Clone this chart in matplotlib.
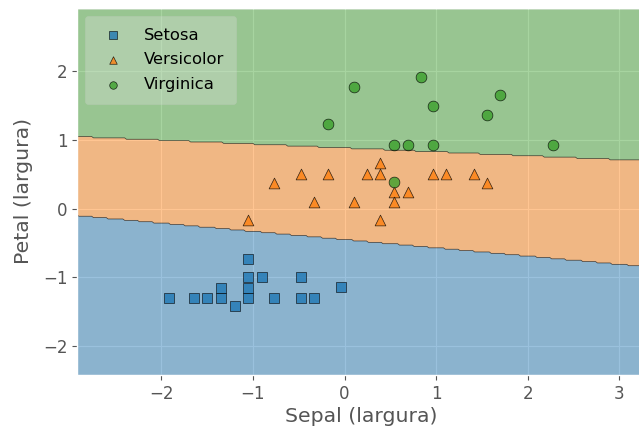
import numpy as np
import matplotlib
matplotlib.use("Agg")
import matplotlib.pyplot as plt

plt.style.use("ggplot")
plt.rcParams["xtick.labelsize"] = 12
plt.rcParams["ytick.labelsize"] = 12
plt.rcParams["axes.labelsize"] = 14.7
plt.rcParams["legend.fontsize"] = 11.8

# standardized test points (sepal, petal)
setosa_x = [-1.92, -1.64, -1.50, -1.35, -1.35, -1.20, -1.05, -1.05, -1.05, -1.05,
            -0.90, -0.77, -0.48, -0.48, -0.33, -0.04]
setosa_y = [-1.30, -1.30, -1.30, -1.15, -1.30, -1.42, -0.73, -1.00, -1.15, -1.30,
            -1.00, -1.30, -1.00, -1.30, -1.30, -1.14]
versi_x = [0.39, -0.48, -0.18, 0.24, 0.39, 0.96, 1.11, 1.41, -0.77, 1.56,
           0.54, 0.69, -0.33, 0.10, 0.54, -1.05, 0.39]
versi_y = [0.66, 0.51, 0.51, 0.51, 0.51, 0.51, 0.51, 0.51, 0.38, 0.38,
           0.24, 0.24, 0.09, 0.09, 0.09, -0.17, -0.17]
virg_x = [-0.18, 0.10, 0.83, 0.97, 1.56, 1.70, 0.54, 0.69, 0.97, 2.28, 0.54]
virg_y = [1.23, 1.77, 1.92, 1.50, 1.36, 1.65, 0.93, 0.93, 0.93, 0.93, 0.39]

labels = ["Setosa", "Versicolor", "Virginica"]
markers = ["s", "^", "o"]
colors = ["#1f77b4", "#ff7f0e", "#3ca02c"]

# linear decision boundaries: petal = intercept + slope * sepal
upper_boundary = [0.884, -0.0569]   # virginica / versicolor
lower_boundary = [-0.45, -0.120]    # versicolor / setosa

all_x = np.array(setosa_x + versi_x + virg_x)
all_y = np.array(setosa_y + versi_y + virg_y)
x_min, x_max = all_x.min() - 1, all_x.max() + 1
y_min, y_max = all_y.min() - 1, all_y.max() + 1

xx, yy = np.meshgrid(np.arange(x_min, x_max, 0.02), np.arange(y_min, y_max, 0.02))
up = upper_boundary[0] + upper_boundary[1] * xx
lo = lower_boundary[0] + lower_boundary[1] * xx
Z = np.where(yy > up, 2, np.where(yy > lo, 1, 0))

fig = plt.figure(figsize=(6.39, 4.34), dpi=100)
ax = fig.add_axes([0.1205, 0.136, 0.889, 0.8456])

levels = np.arange(Z.max() + 2) - 0.5
cset = ax.contourf(xx, yy, Z, colors=colors, levels=levels, alpha=0.45, antialiased=True)
ax.contour(xx, yy, Z, cset.levels, colors="k", linewidths=0.5, alpha=0.7, antialiased=True)

for xs, ys, m, c, lab in zip([setosa_x, versi_x, virg_x], [setosa_y, versi_y, virg_y],
                             markers, colors, labels):
    ax.scatter(xs, ys, marker=m, c=c, s=60, edgecolor="black", alpha=0.8, label=lab)

ax.set_xlim(x_min, x_max)
ax.set_ylim(y_min, y_max)
ax.set_xticks([-2, -1, 0, 1, 2, 3])
ax.set_yticks([-2, -1, 0, 1, 2])
ax.set_xlabel("Sepal (largura)", labelpad=3)
ax.set_ylabel("Petal (largura)", labelpad=7)
ax.legend(framealpha=0.3, scatterpoints=1, loc="upper left", markerscale=0.7,
          borderpad=0.7, labelspacing=0.6, handletextpad=0.9)

fig.savefig("out.png", dpi=100)
